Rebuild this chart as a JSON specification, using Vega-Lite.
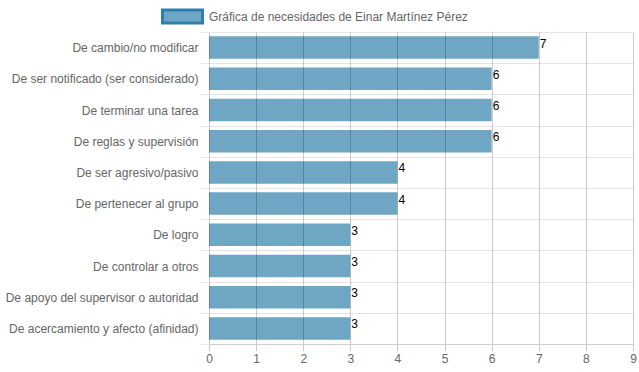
{
  "$schema": "https://vega.github.io/schema/vega-lite/v6.json",
  "autosize": "none",
  "width": 424,
  "height": 312,
  "padding": {"left": 209, "top": 32, "right": 6, "bottom": 28},
  "background": "#ffffff",
  "config": {
    "font": "Liberation Sans",
    "view": {"stroke": null}
  },
  "data": {
    "values": [
      {"necesidad": "De cambio/no modificar", "valor": 7, "serie": "Gráfica de necesidades de Einar Martínez Pérez"},
      {"necesidad": "De ser notificado (ser considerado)", "valor": 6, "serie": "Gráfica de necesidades de Einar Martínez Pérez"},
      {"necesidad": "De terminar una tarea", "valor": 6, "serie": "Gráfica de necesidades de Einar Martínez Pérez"},
      {"necesidad": "De reglas y supervisión", "valor": 6, "serie": "Gráfica de necesidades de Einar Martínez Pérez"},
      {"necesidad": "De ser agresivo/pasivo", "valor": 4, "serie": "Gráfica de necesidades de Einar Martínez Pérez"},
      {"necesidad": "De pertenecer al grupo", "valor": 4, "serie": "Gráfica de necesidades de Einar Martínez Pérez"},
      {"necesidad": "De logro", "valor": 3, "serie": "Gráfica de necesidades de Einar Martínez Pérez"},
      {"necesidad": "De controlar a otros", "valor": 3, "serie": "Gráfica de necesidades de Einar Martínez Pérez"},
      {"necesidad": "De apoyo del supervisor o autoridad", "valor": 3, "serie": "Gráfica de necesidades de Einar Martínez Pérez"},
      {"necesidad": "De acercamiento y afecto (afinidad)", "valor": 3, "serie": "Gráfica de necesidades de Einar Martínez Pérez"}
    ]
  },
  "encoding": {
    "y": {
      "field": "necesidad",
      "type": "nominal",
      "sort": null,
      "scale": {"paddingInner": 0, "paddingOuter": 0},
      "axis": {
        "title": null,
        "tickBand": "extent",
        "grid": true,
        "gridColor": "#e6e6e6",
        "tickColor": "#e6e6e6",
        "tickSize": 9,
        "domain": false,
        "labelPadding": 2,
        "labelFontSize": 12,
        "labelColor": "#666666",
        "labelFont": "Liberation Sans",
        "labelLimit": 300
      }
    },
    "x": {
      "field": "valor",
      "type": "quantitative",
      "scale": {"domain": [0, 9], "nice": false},
      "axis": {
        "title": null,
        "values": [0, 1, 2, 3, 4, 5, 6, 7, 8, 9],
        "grid": true,
        "gridColor": "#000000",
        "gridOpacity": 0.2,
        "tickColor": "#cccccc",
        "tickSize": 7,
        "domainColor": "#cccccc",
        "labelPadding": 2,
        "labelFlush": false,
        "labelFontSize": 12,
        "labelColor": "#666666",
        "labelFont": "Liberation Sans",
        "zindex": 1
      }
    }
  },
  "layer": [
    {
      "mark": {"type": "bar", "height": {"band": 0.72}},
      "encoding": {
        "color": {
          "field": "serie",
          "type": "nominal",
          "scale": {"range": ["#6ea6c4"]},
          "legend": {
            "title": null,
            "orient": "none",
            "legendX": -48,
            "legendY": -37,
            "padding": 0,
            "symbolType": "M-1,-0.33L1,-0.33L1,0.33L-1,0.33Z",
            "symbolSize": 1600,
            "symbolStrokeColor": "#2f7fab",
            "symbolStrokeWidth": 3,
            "symbolOpacity": 1,
            "labelFontSize": 12,
            "labelColor": "#666666",
            "labelFont": "Liberation Sans",
            "labelOffset": 5,
            "labelLimit": 500
          }
        }
      }
    },
    {
      "mark": {"type": "text", "align": "left", "baseline": "middle", "dx": 1, "dy": -4, "fontSize": 12, "color": "#000000", "font": "Liberation Sans"},
      "encoding": {"text": {"field": "valor", "type": "quantitative"}}
    }
  ]
}
